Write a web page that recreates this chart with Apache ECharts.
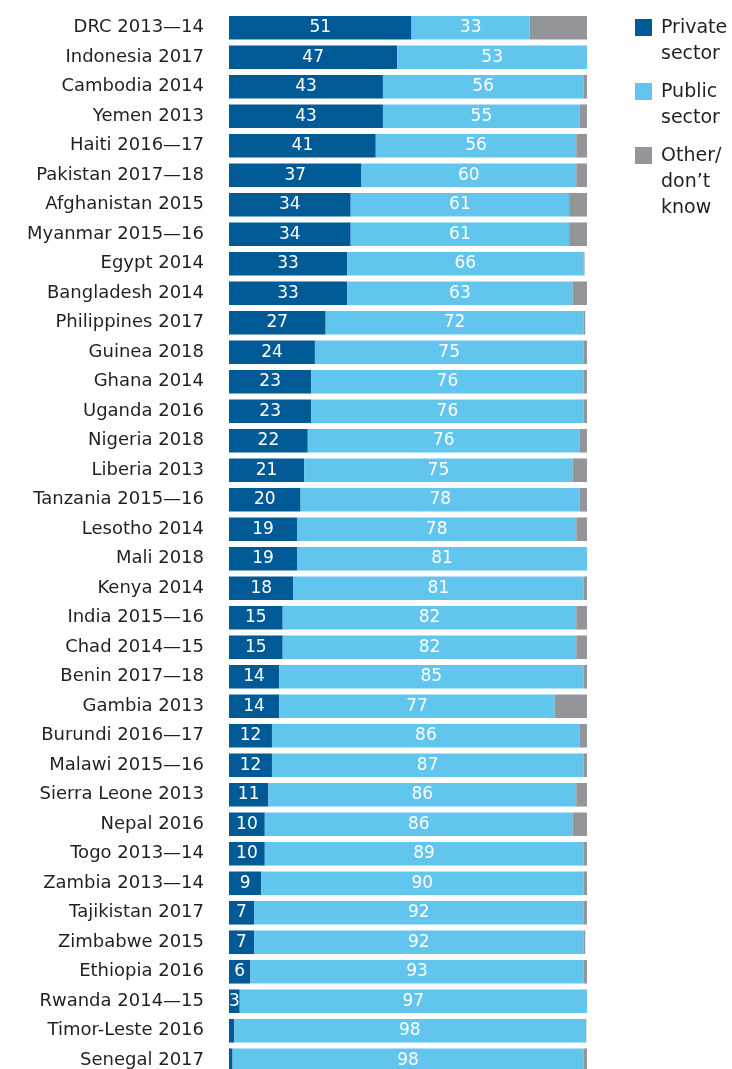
<!DOCTYPE html>
<html><head><meta charset="utf-8">
<script src="https://cdn.jsdelivr.net/npm/echarts@6/dist/echarts.min.js"></script>
<style>html,body{margin:0;padding:0;background:#fff;overflow:hidden}#c{width:732px;height:1078px}</style>
</head><body><div id="c"></div>
<script>
const categories = ["DRC 2013—14","Indonesia 2017","Cambodia 2014","Yemen 2013","Haiti 2016—17","Pakistan 2017—18","Afghanistan 2015","Myanmar 2015—16","Egypt 2014","Bangladesh 2014","Philippines 2017","Guinea 2018","Ghana 2014","Uganda 2016","Nigeria 2018","Liberia 2013","Tanzania 2015—16","Lesotho 2014","Mali 2018","Kenya 2014","India 2015—16","Chad 2014—15","Benin 2017—18","Gambia 2013","Burundi 2016—17","Malawi 2015—16","Sierra Leone 2013","Nepal 2016","Togo 2013—14","Zambia 2013—14","Tajikistan 2017","Zimbabwe 2015","Ethiopia 2016","Rwanda 2014—15","Timor-Leste 2016","Senegal 2017"];
const privateSector = [51,47,43,43,41,37,34,34,33,33,27,24,23,23,22,21,20,19,19,18,15,15,14,14,12,12,11,10,10,9,7,7,6,3,1.5,1];
const publicSector = [33,53,56,55,56,60,61,61,66,63,72,75,76,76,76,75,78,78,81,81,82,82,85,77,86,87,86,86,89,90,92,92,93,97,98,98];
const otherDontKnow = [16,0.4,1,2,3,3,5,5,0.3,4,0.5,1,1,1,2,4,2,3,0.3,1,3,3,1,9,2,1,3,4,1,1,1,0.5,1,0.5,0.3,1];
const seriesNames = ["Private\nsector","Public\nsector","Other/\ndon’t\nknow"];
const seriesColors = ["#005a96","#61c5ee","#939598"];

const chart = echarts.init(document.getElementById('c'), null, {renderer:'canvas'});
const FONT = '"DejaVu Sans", sans-serif';
const lbl = (min) => ({
  show: true, position: 'inside', color: '#fff', fontSize: 17, fontFamily: FONT,
  formatter: p => (p.value >= min ? String(p.value) : '')
});
const legendGraphics = [];
seriesNames.forEach((n, i) => {
  legendGraphics.push({type: 'rect', left: 635, top: 19 + i * 64, shape: {width: 17, height: 17}, style: {fill: seriesColors[i]}});
  legendGraphics.push({type: 'text', left: 661, top: 15 + i * 64, style: {text: n, fontSize: 19, lineHeight: 26, fontFamily: FONT, fill: '#231f20'}});
});
chart.setOption({
  animation: false,
  grid: {left: 229, width: 358, top: 13, height: 1062, containLabel: false},
  graphic: legendGraphics,
  xAxis: {type: 'value', min: 0, max: 100, show: false},
  yAxis: {
    type: 'category', data: categories, inverse: true,
    axisLine: {show: false}, axisTick: {show: false},
    axisLabel: {fontSize: 18, color: '#231f20', fontFamily: FONT, margin: 25}
  },
  series: [
    {name: seriesNames[0], type: 'bar', stack: 't', data: privateSector, barWidth: '80%',
     itemStyle: {color: seriesColors[0]}, label: lbl(3)},
    {name: seriesNames[1], type: 'bar', stack: 't', data: publicSector,
     itemStyle: {color: seriesColors[1]}, label: lbl(3)},
    {name: seriesNames[2], type: 'bar', stack: 't', data: otherDontKnow,
     itemStyle: {color: seriesColors[2]}, label: {show: false}}
  ]
});
</script></body></html>
